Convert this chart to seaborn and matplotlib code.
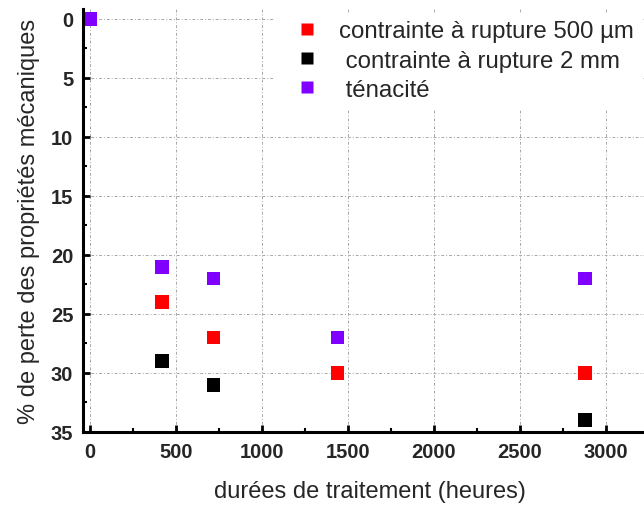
import matplotlib
matplotlib.use("Agg")
from matplotlib import pyplot as plt
from matplotlib.ticker import MultipleLocator
import seaborn as sns
import pandas as pd

# durées de traitement (heures) and % loss per property
hours_500um = [0, 420, 720, 1440, 2880]
loss_500um = [0, 24, 27, 30, 30]
hours_2mm = [0, 420, 720, 2880]
loss_2mm = [0, 29, 31, 34]
hours_tenacite = [0, 420, 720, 1440, 2880]
loss_tenacite = [0, 21, 22, 27, 22]

series_names = ["contrainte à rupture 500 µm", " contrainte à rupture 2 mm", " ténacité"]
series_colors = ["#ff0000", "#000000", "#8000ff"]

frames = []
for name, xs, ys in zip(series_names,
                        [hours_500um, hours_2mm, hours_tenacite],
                        [loss_500um, loss_2mm, loss_tenacite]):
    frames.append(pd.DataFrame({"heures": xs, "perte": ys, "serie": name}))
df = pd.concat(frames, ignore_index=True)

sns.set_style("white")
plt.rcParams["font.family"] = ["Liberation Sans", "DejaVu Sans"]

fig = plt.figure(figsize=(6.44, 5.06), dpi=100)
ax = fig.add_axes([0.1289, 0.1443, 0.892, 0.836])

sns.scatterplot(data=df, x="heures", y="perte", hue="serie", hue_order=series_names,
                palette=series_colors, marker="s", s=95, edgecolor="none", ax=ax)

ax.set_xlim(-40, 3300)
ax.set_ylim(35, -0.85)
ax.xaxis.set_major_locator(MultipleLocator(500))
ax.xaxis.set_minor_locator(MultipleLocator(250))
ax.yaxis.set_major_locator(MultipleLocator(5))
ax.yaxis.set_minor_locator(MultipleLocator(2.5))

ax.grid(True, which="major", color="#a8a8a8", linestyle=(0, (3, 2, 1, 2)), linewidth=0.7)
ax.set_axisbelow(True)

for side in ["top", "right"]:
    ax.spines[side].set_visible(False)
for side in ["left", "bottom"]:
    ax.spines[side].set_linewidth(2.2)
    ax.spines[side].set_color("black")

ax.tick_params(which="both", bottom=True, left=True, direction="in", color="black")
ax.tick_params(which="major", length=5, width=2, labelsize=14.5, pad=7)
ax.tick_params(which="minor", length=3, width=1.5)
for lbl in ax.get_xticklabels() + ax.get_yticklabels():
    lbl.set_fontweight("bold")

ax.set_xlabel("durées de traitement (heures)", fontsize=17, labelpad=14)
ax.set_ylabel("% de perte des propriétés mécaniques", fontsize=17, labelpad=8)

handles, labels = ax.get_legend_handles_labels()
leg = ax.legend(handles, labels, loc="upper left", bbox_to_anchor=(0.335, 0.99),
                fontsize=17.3, frameon=True, facecolor="white", edgecolor="white",
                framealpha=1, markerscale=0.9, handletextpad=0.35, labelspacing=0.3,
                borderaxespad=0, borderpad=0.3)

fig.savefig("out.png", dpi=100)
